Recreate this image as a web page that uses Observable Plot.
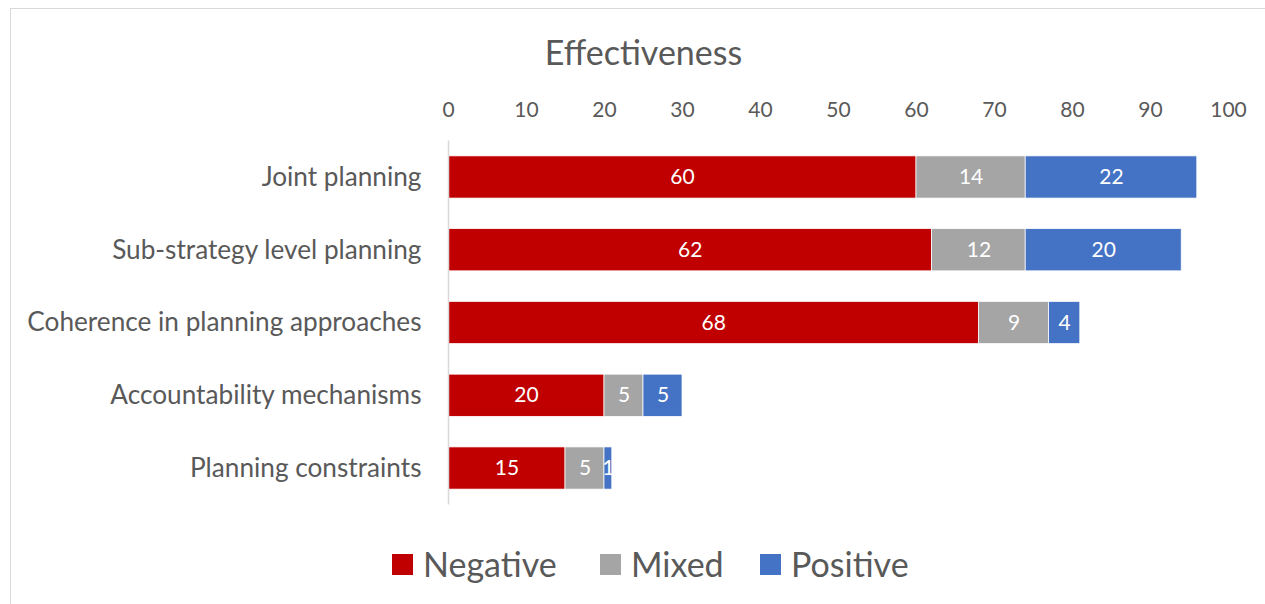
<!DOCTYPE html>
<html>
<head>
<meta charset="utf-8">
<script src="https://cdn.jsdelivr.net/npm/d3@7"></script>
<script src="https://cdn.jsdelivr.net/npm/@observablehq/plot@0.6"></script>
<style>
  html, body { margin: 0; padding: 0; background: #fff; }
  #wrap { position: relative; width: 1265px; height: 604px; overflow: hidden; font-family: Lato, sans-serif; }
  #frame { position: absolute; left: 10px; top: 8px; width: 1400px; height: 800px; border: 1.5px solid #d9d9d9; box-sizing: border-box; }
  #title { position: absolute; left: 0; width: 1287px; top: 33px; text-align: center; font-size: 34px; color: #595959; line-height: 38px; }
  #chart { position: absolute; left: 0; top: 80px; }
  .item { position: absolute; top: 542px; display: flex; align-items: center; font-size: 34px; color: #595959; line-height: 44px; }
  .sw { width: 21px; height: 21px; margin-right: 10px; }
</style>
</head>
<body>
<div id="wrap">
  <div id="frame"></div>
  <div id="title">Effectiveness</div>
  <div id="chart"></div>
</div>
<script>
const categories = ["Joint planning", "Sub-strategy level planning", "Coherence in planning approaches", "Accountability mechanisms", "Planning constraints"];
const series = ["Negative", "Mixed", "Positive"];
const colors = ["#C00000", "#A5A5A5", "#4472C4"];
const negative = [60, 62, 68, 20, 15];
const mixed = [14, 12, 9, 5, 5];
const positive = [22, 20, 4, 5, 1];
const xTicks = [0, 10, 20, 30, 40, 50, 60, 70, 80, 90, 100];

const valuesBySeries = [negative, mixed, positive];
const data = [];
categories.forEach((c, i) => {
  series.forEach((s, j) => data.push({category: c, series: s, value: valuesBySeries[j][i]}));
});

const chart = Plot.plot({
  width: 1265,
  height: 440,
  marginLeft: 448,
  marginRight: 37,
  marginTop: 60.6,
  marginBottom: 15.6,
  style: {fontFamily: "Lato, sans-serif", background: "transparent", color: "#595959"},
  x: {domain: [0, 100], ticks: xTicks, axis: null},
  y: {domain: categories, paddingInner: 0.42, paddingOuter: 0.21, round: false, axis: null},
  color: {domain: series, range: colors},
  marks: [
    Plot.barX(data, Plot.stackX({x: "value", y: "category", fill: "series", z: "series", order: series, stroke: "#fff", strokeWidth: 0.75})),
    Plot.ruleX([0], {stroke: "#d9d9d9", strokeWidth: 1.5}),
    Plot.text(data, Plot.stackX({x: "value", y: "category", z: "series", order: series, text: d => String(d.value), fill: "#fff", fontSize: 21})),
    Plot.axisX({anchor: "top", ticks: xTicks, tickSize: 0, tickPadding: 24, fontSize: 21, fill: "#595959", label: null}),
    Plot.axisY({anchor: "left", tickSize: 0, tickPadding: 27, fontSize: 26.2, fill: "#595959", label: null})
  ]
});
document.getElementById("chart").appendChild(chart);

const legendX = [392, 600, 760];
const wrap = document.getElementById("wrap");
series.forEach((s, j) => {
  const it = document.createElement("div");
  it.className = "item";
  it.style.left = legendX[j] + "px";
  const sw = document.createElement("div");
  sw.className = "sw";
  sw.style.background = colors[j];
  const t = document.createElement("span");
  t.textContent = s;
  it.appendChild(sw); it.appendChild(t);
  wrap.appendChild(it);
});
</script>
</body>
</html>
